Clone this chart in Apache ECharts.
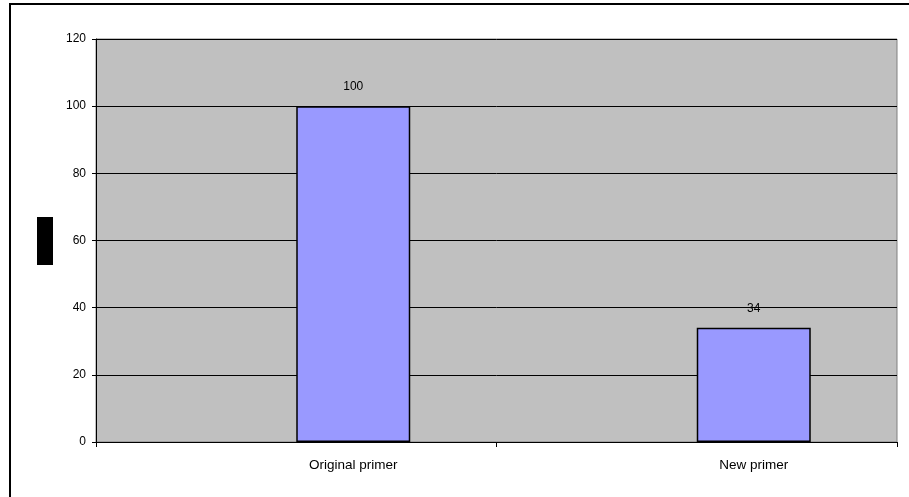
<!DOCTYPE html>
<html>
<head>
    <meta charset="utf-8">
    <title>chart</title>
    <style type="text/css">
        * {
            margin: 0;
            padding: 0;
        }

        #canvas {
            width: 909px;
            height: 497px;
            background: #fff;
        }
    </style>
</head>
<body>

<div id="canvas"></div>

<script src="https://cdn.jsdelivr.net/npm/echarts@6/dist/echarts.min.js"></script>
<script type="text/javascript">

    let categories = ['Original primer', 'New primer'];
    let values = [100, 34];
    let yTicks = [0, 20, 40, 60, 80, 100, 120];

    let fontName = 'Liberation Sans';
    let barW = 114;

    var myChart = echarts.init(document.getElementById('canvas'));

    var option = {
        animation: false,
        textStyle: {fontFamily: fontName},
        grid: {
            left: 96,
            top: 39,
            width: 801,
            height: 403,
            show: true,
            backgroundColor: '#C0C0C0',
            borderColor: '#808080',
            borderWidth: 1
        },
        // outer frame + hidden axis title box
        graphic: [
            {
                type: 'rect',
                shape: {x: 10, y: 4, width: 920, height: 520},
                style: {fill: 'none', stroke: '#000', lineWidth: 2},
                silent: true
            },
            {
                type: 'rect',
                shape: {x: 37, y: 217, width: 16, height: 48},
                style: {fill: '#000'},
                silent: true
            }
        ],
        xAxis: {
            type: 'category',
            data: categories,
            axisLine: {lineStyle: {color: '#000', width: 1}},
            axisTick: {show: true, length: 5, lineStyle: {color: '#000'}},
            // bars sit right of the category centre, labels follow them
            axisLabel: {color: '#000', fontSize: 13.5, margin: 16, padding: [0, 0, 0, barW]}
        },
        yAxis: {
            type: 'value',
            min: yTicks[0],
            max: yTicks[yTicks.length - 1],
            interval: 20,
            axisLine: {show: true, lineStyle: {color: '#000', width: 1}},
            axisTick: {show: true, length: 4, lineStyle: {color: '#000'}},
            axisLabel: {color: '#000', fontSize: 12, margin: 10},
            splitLine: {show: true, lineStyle: {color: '#000', width: 1}}
        },
        series: [
            {
                // empty slot, pushes the real bar to the right half
                type: 'bar',
                data: ['-', '-'],
                barWidth: barW,
                barGap: '0%',
                silent: true
            },
            {
                type: 'bar',
                data: values,
                barWidth: barW,
                barGap: '0%',
                itemStyle: {
                    color: '#9999FF',
                    borderColor: '#000',
                    borderWidth: 1.5
                },
                label: {
                    show: true,
                    position: 'top',
                    distance: 13,
                    color: '#000',
                    fontSize: 12
                }
            }
        ]
    };

    myChart.setOption(option);
</script>
</body>
</html>
